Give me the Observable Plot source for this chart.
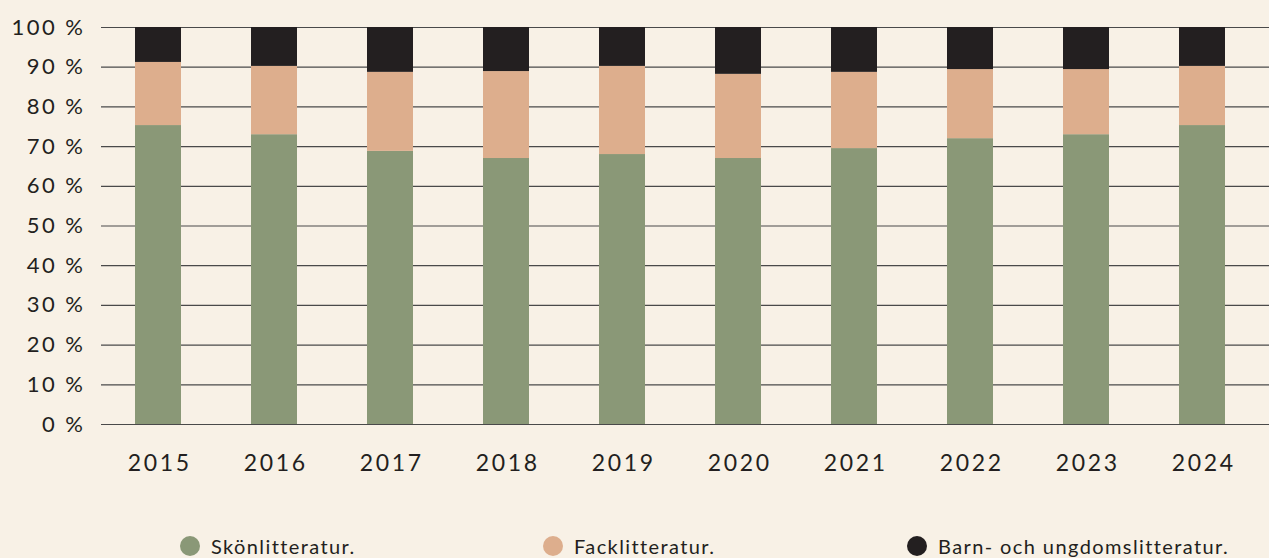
<!DOCTYPE html>
<html>
<head>
<meta charset="utf-8">
<script src="https://cdn.jsdelivr.net/npm/d3@7"></script>
<script src="https://cdn.jsdelivr.net/npm/@observablehq/plot@0.6"></script>
<style>
  html, body { margin: 0; padding: 0; background: #f8f1e6; }
  #wrap { width: 1269px; height: 558px; position: relative; overflow: hidden; background: #f8f1e6; font-family: Lato, "Noto Sans", sans-serif; color: #231f20; }
  #chart { position: absolute; top: 0; left: 0; }
  #legend { position: absolute; top: 534px; left: 0; width: 1269px; height: 24px; font-size: 20px; letter-spacing: 1.4px; }
  .item { position: absolute; top: 0; height: 24px; line-height: 24px; display: flex; align-items: center; white-space: nowrap; }
  .dot { width: 20px; height: 20px; border-radius: 50%; display: inline-block; margin-right: 11px; }
  #chart svg g[aria-label="y-axis tick label"] text { letter-spacing: 2.5px; }
  #chart svg g[aria-label="x-axis tick label"] text { letter-spacing: 2.7px; }
</style>
</head>
<body>
<div id="wrap"><div id="chart"></div><div id="legend"></div></div>
<script>
const years = ["2015","2016","2017","2018","2019","2020","2021","2022","2023","2024"];
const categories = ["Skönlitteratur.", "Facklitteratur.", "Barn- och ungdomslitteratur."];
const colors = ["#8a9877", "#ddae8d", "#231f20"];
const skon = [75.3, 73.0, 68.8, 67.0, 68.0, 67.0, 69.5, 72.0, 73.0, 75.3];
const fack = [15.9, 17.2, 19.9, 21.9, 22.2, 21.2, 19.2, 17.4, 16.4, 14.9];
const barn = [8.8, 9.8, 11.3, 11.1, 9.8, 11.8, 11.3, 10.6, 10.6, 9.8];
const yTicks = [0,10,20,30,40,50,60,70,80,90,100];

const series = [skon, fack, barn];
const data = [];
years.forEach((y, i) => categories.forEach((c, j) => data.push({year: y, cat: c, value: series[j][i]})));

const chart = Plot.plot({
  width: 1269,
  height: 500,
  marginTop: 27,
  marginBottom: 76,
  marginLeft: 101,
  marginRight: 0,
  style: {background: "transparent", fontFamily: "Lato, 'Noto Sans', sans-serif", fontSize: "20px", color: "#231f20", overflow: "visible"},
  x: {domain: years, paddingInner: 0.605, paddingOuter: 0.3225, align: 0.44, label: null},
  y: {domain: [0, 100], label: null},
  color: {domain: categories, range: colors},
  marks: [
    Plot.ruleY(yTicks, {stroke: "#4a4a4a", strokeWidth: 1.2}),
    Plot.barY(data, Plot.stackY({order: categories}, {x: "year", y: "value", fill: "cat"})),
    Plot.axisY(yTicks, {tickSize: 0, tickPadding: 16, tickFormat: d => d + " %", fontSize: 22, fill: "#231f20", label: null}),
    Plot.axisX({tickSize: 0, tickPadding: 30, fontSize: 23, fill: "#231f20", label: null, dx: 1.3})
  ]
});
document.getElementById("chart").appendChild(chart);

const legend = document.getElementById("legend");
const lefts = [180, 543, 907];
categories.forEach((c, i) => {
  const el = document.createElement("div");
  el.className = "item";
  el.style.left = lefts[i] + "px";
  el.innerHTML = `<span class="dot" style="background:${colors[i]}"></span><span>${c}</span>`;
  legend.appendChild(el);
});
</script>
</body>
</html>
